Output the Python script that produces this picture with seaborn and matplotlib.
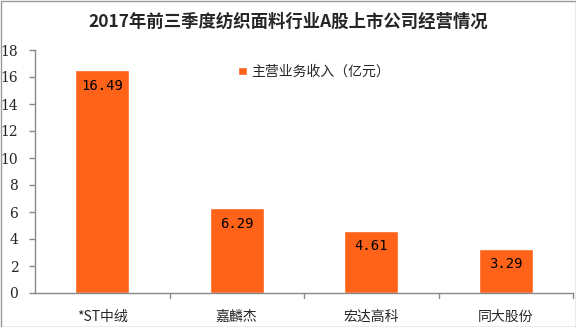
import matplotlib
matplotlib.use("Agg")
import matplotlib.pyplot as plt
import seaborn as sns
import pandas as pd
from matplotlib.patches import Rectangle

categories = ["*ST中绒", "嘉麟杰", "宏达高科", "同大股份"]
values = [16.49, 6.29, 4.61, 3.29]
value_labels = ["16.49", "6.29", "4.61", "3.29"]
yticks = [0, 2, 4, 6, 8, 10, 12, 14, 16, 18]
title = "2017年前三季度纺织面料行业A股上市公司经营情况"
legend_label = "主营业务收入（亿元）"

sns.set_theme(style="white")
plt.rcParams['font.family'] = ['Noto Sans CJK SC', 'DejaVu Sans']

color = "#FF6319"
df = pd.DataFrame({"cat": categories, "val": values})

fig = plt.figure(figsize=(5.76, 3.27), dpi=100)
ax = fig.add_axes([35/576, 1 - 293/327, (573-35)/576, (293-50)/327])
sns.barplot(data=df, x="cat", y="val", color=color, width=0.4, ax=ax,
            saturation=1, label=legend_label)

ax.set_xlim(-0.5, 3.5)
ax.set_ylim(0, 18)
ax.set_yticks(yticks)
ax.set_yticklabels([str(t) for t in yticks])
for t in ax.get_yticklabels():
    t.set_fontfamily(['DejaVu Serif'])
    t.set_fontsize(10)
ax.set_xlabel("")
ax.set_ylabel("")
ax.tick_params(axis='x', length=0, labelsize=10, pad=12)
ax.tick_params(axis='y', length=4, color="#888888", width=1, left=True, pad=8)
for b in [0.5, 1.5, 2.5, 3.5]:
    ax.plot([b, b], [0, -0.35], color="#888888", lw=1, clip_on=False)
for s in ["top", "right"]:
    ax.spines[s].set_visible(False)
for s in ["left", "bottom"]:
    ax.spines[s].set_color("#888888")
    ax.spines[s].set_linewidth(1)

for p, lab in zip(ax.patches, value_labels):
    ax.text(p.get_x() + p.get_width()/2, p.get_height() - 1.15, lab,
            ha="center", va="center", fontsize=10, color="black",
            family=['DejaVu Sans Mono'])

leg = ax.legend(loc="upper left", bbox_to_anchor=(0.355, 0.99), frameon=False,
                fontsize=10, handlelength=0.6, handleheight=0.6, handletextpad=0.3)

fig.text(0.5, 1 - 22/327, title, ha="center", va="center", fontsize=12.5,
         fontweight="bold")

fig.patches.append(Rectangle((0.5/576, 0.5/327), 575/576, 326/327,
                             transform=fig.transFigure, fill=False,
                             edgecolor="#999999", lw=1))

fig.savefig("out.png", dpi=100)
